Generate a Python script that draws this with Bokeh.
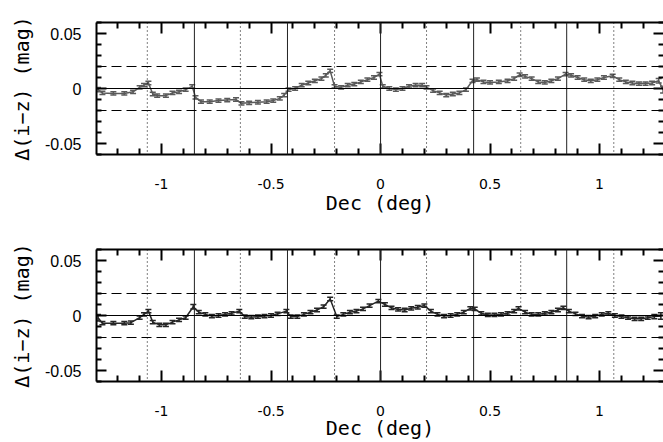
from bokeh.plotting import figure
from bokeh.models import (Range1d, FixedTicker, LinearAxis, Span, Whisker,
                          TeeHead, ColumnDataSource)
from bokeh.layouts import column
from bokeh.embed import file_html
from bokeh.resources import INLINE

# ---------------- data ----------------
x_major_ticks = [-1.0, -0.5, 0.0, 0.5, 1.0]
x_tick_labels = ["-1", "-0.5", "0", "0.5", "1"]
x_minor_ticks = [-1.2, -1.1, -0.9, -0.8, -0.7, -0.6, -0.4, -0.3, -0.2, -0.1,
                 0.1, 0.2, 0.3, 0.4, 0.6, 0.7, 0.8, 0.9, 1.1, 1.2]
y_major_ticks = [-0.05, 0.0, 0.05]
y_tick_labels = ["-0.05", "0", "0.05"]
y_minor_ticks = [-0.06, -0.04, -0.03, -0.02, -0.01, 0.01, 0.02, 0.03, 0.04, 0.06]

camcol_edges = [-0.85, -0.425, 0.0, 0.425, 0.85]          # solid vertical lines
camcol_centers = [-1.065, -0.64, -0.21, 0.21, 0.64, 1.065]  # dotted vertical lines
zero_level = 0.0
tolerance = 0.02                                           # dashed lines at +/-

dec_top = [-1.29, -1.27, -1.22, -1.17, -1.13, -1.10, -1.08, -1.06, -1.04, -1.02,
           -0.98, -0.95, -0.92, -0.89, -0.86, -0.845, -0.82, -0.78, -0.74, -0.70,
           -0.66, -0.635, -0.60, -0.56, -0.52, -0.49, -0.46, -0.44, -0.42, -0.39,
           -0.36, -0.33, -0.30, -0.27, -0.25, -0.23, -0.21, -0.18, -0.15, -0.12,
           -0.09, -0.06, -0.03, -0.005, 0.01, 0.04, 0.07, 0.10, 0.13, 0.16,
           0.19, 0.21, 0.24, 0.27, 0.30, 0.33, 0.36, 0.39, 0.42, 0.44,
           0.47, 0.50, 0.54, 0.58, 0.61, 0.635, 0.66, 0.69, 0.72, 0.75,
           0.78, 0.81, 0.845, 0.87, 0.90, 0.93, 0.96, 0.99, 1.02, 1.06,
           1.09, 1.12, 1.15, 1.18, 1.21, 1.24, 1.27, 1.29]
diz_top = [-0.001, -0.004, -0.0045, -0.0045, -0.003, 0.001, 0.003, 0.005, -0.005, -0.0065,
           -0.0065, -0.004, -0.003, -0.001, 0.002, -0.008, -0.012, -0.012, -0.011, -0.0105,
           -0.010, -0.0135, -0.013, -0.0125, -0.012, -0.011, -0.009, -0.006, -0.001, 0.000,
           0.003, 0.005, 0.007, 0.009, 0.012, 0.016, 0.002, 0.001, 0.003, 0.004,
           0.006, 0.008, 0.010, 0.013, 0.002, 0.000, -0.001, 0.000, 0.002, 0.003,
           0.003, 0.001, -0.002, -0.004, -0.006, -0.005, -0.004, -0.001, 0.007, 0.008,
           0.006, 0.0055, 0.006, 0.007, 0.009, 0.0125, 0.011, 0.009, 0.006, 0.0055,
           0.007, 0.009, 0.013, 0.012, 0.010, 0.008, 0.007, 0.008, 0.010, 0.0115,
           0.008, 0.006, 0.005, 0.0045, 0.0045, 0.005, 0.007, -0.001]
err_top = [0.002, 0.0015, 0.0015, 0.0015, 0.0015, 0.0015, 0.0015, 0.0015, 0.0015, 0.0015,
           0.0015, 0.0015, 0.0015, 0.0015, 0.0015, 0.0015, 0.0015, 0.0015, 0.0015, 0.0015,
           0.0015, 0.0015, 0.0015, 0.0015, 0.0015, 0.0015, 0.0015, 0.0015, 0.0015, 0.0015,
           0.0015, 0.0015, 0.0015, 0.0015, 0.0015, 0.0015, 0.0015, 0.0015, 0.0015, 0.0015,
           0.0015, 0.0015, 0.0015, 0.0015, 0.0015, 0.0015, 0.0015, 0.0015, 0.0015, 0.0015,
           0.0015, 0.0015, 0.0015, 0.0015, 0.0015, 0.0015, 0.0015, 0.0015, 0.0015, 0.0015,
           0.0015, 0.0015, 0.0015, 0.0015, 0.0015, 0.0015, 0.0015, 0.0015, 0.0015, 0.0015,
           0.0015, 0.0015, 0.0015, 0.0015, 0.0015, 0.0015, 0.0015, 0.0015, 0.0015, 0.0015,
           0.0015, 0.0015, 0.0015, 0.0015, 0.0015, 0.0015, 0.002, 0.003]

dec_bot = [-1.29, -1.27, -1.22, -1.17, -1.14, -1.10, -1.08, -1.06, -1.04, -1.01,
           -0.98, -0.95, -0.92, -0.89, -0.855, -0.83, -0.80, -0.77, -0.74, -0.71,
           -0.68, -0.645, -0.62, -0.59, -0.56, -0.53, -0.50, -0.47, -0.43, -0.41,
           -0.38, -0.35, -0.32, -0.29, -0.26, -0.23, -0.20, -0.17, -0.14, -0.11,
           -0.08, -0.05, -0.01, 0.02, 0.05, 0.08, 0.11, 0.14, 0.17, 0.20,
           0.23, 0.26, 0.29, 0.32, 0.35, 0.38, 0.41, 0.43, 0.46, 0.49,
           0.52, 0.55, 0.58, 0.61, 0.63, 0.66, 0.69, 0.72, 0.75, 0.78,
           0.81, 0.835, 0.86, 0.89, 0.92, 0.95, 0.98, 1.01, 1.04, 1.07,
           1.10, 1.13, 1.16, 1.19, 1.22, 1.25, 1.28]
diz_bot = [-0.002, -0.007, -0.007, -0.007, -0.0065, -0.002, 0.001, 0.004, -0.006, -0.0085,
           -0.0085, -0.006, -0.004, -0.002, 0.008, 0.003, 0.001, -0.0005, 0.000, 0.001,
           0.002, 0.004, -0.001, -0.0015, -0.001, -0.0005, 0.000, 0.0015, 0.004, -0.001,
           -0.001, 0.001, 0.003, 0.005, 0.008, 0.015, -0.001, 0.001, 0.003, 0.004,
           0.006, 0.009, 0.013, 0.010, 0.007, 0.0055, 0.005, 0.0065, 0.0075, 0.009,
           0.004, 0.001, -0.0005, 0.000, 0.001, 0.003, 0.0065, 0.006, 0.002, 0.0005,
           0.0005, 0.001, 0.002, 0.004, 0.0065, 0.003, 0.001, 0.001, 0.002, 0.003,
           0.005, 0.007, 0.004, 0.0015, -0.0005, -0.0015, -0.0005, 0.001, 0.002, 0.000,
           -0.001, -0.002, -0.003, -0.003, -0.002, -0.001, -0.0005]
err_bot = [0.003, 0.0015, 0.0015, 0.0015, 0.0015, 0.0015, 0.0015, 0.0015, 0.0015, 0.0015,
           0.0015, 0.0015, 0.0015, 0.0015, 0.002, 0.0015, 0.0015, 0.0015, 0.0015, 0.0015,
           0.0015, 0.0015, 0.0015, 0.0015, 0.0015, 0.0015, 0.0015, 0.0015, 0.0015, 0.0015,
           0.0015, 0.0015, 0.0015, 0.0015, 0.0015, 0.0015, 0.0015, 0.0015, 0.0015, 0.0015,
           0.0015, 0.0015, 0.0015, 0.0015, 0.0015, 0.0015, 0.0015, 0.0015, 0.0015, 0.0015,
           0.0015, 0.0015, 0.0015, 0.0015, 0.0015, 0.0015, 0.0015, 0.0015, 0.0015, 0.0015,
           0.0015, 0.0015, 0.0015, 0.0015, 0.0015, 0.0015, 0.0015, 0.0015, 0.0015, 0.0015,
           0.0015, 0.0015, 0.0015, 0.0015, 0.0015, 0.0015, 0.0015, 0.0015, 0.0015, 0.0015,
           0.0015, 0.0015, 0.0015, 0.0015, 0.0015, 0.002, 0.003]

X_LABEL = "Dec (deg)"
Y_LABEL = "\u0394(i\u2212z) (mag)"

TITLE_FONT = "DejaVu Sans Mono"


def style_ticks(ax, major_len, minor_len):
    ax.axis_line_width = 2
    ax.axis_line_color = "black"
    ax.major_tick_line_color = "black"
    ax.minor_tick_line_color = "black"
    ax.major_tick_in = major_len
    ax.major_tick_out = 0
    ax.minor_tick_in = minor_len
    ax.minor_tick_out = 0
    ax.major_tick_line_width = 2
    ax.minor_tick_line_width = 2


def style_x_axis(ax, show_labels, title_standoff=-3):
    ax.ticker = FixedTicker(ticks=x_major_ticks, minor_ticks=x_minor_ticks)
    style_ticks(ax, 11, 6)
    if show_labels:
        ax.major_label_overrides = {float(t): s for t, s in zip(x_major_ticks, x_tick_labels)}
        ax.major_label_standoff = 24
        ax.major_label_text_font = "DejaVu Sans"
        ax.major_label_text_font_size = "14px"
        ax.major_label_text_color = "black"
        ax.axis_label = X_LABEL
        ax.axis_label_text_font = TITLE_FONT
        ax.axis_label_text_font_style = "normal"
        ax.axis_label_text_font_size = "20px"
        ax.axis_label_text_color = "black"
        ax.axis_label_standoff = title_standoff
    else:
        ax.major_label_overrides = {float(t): "" for t in x_major_ticks}
        ax.major_label_standoff = 0


def make_panel(dec, diz, err, color, height, top, bottom, title_standoff):
    p = figure(width=663, height=height,
               x_range=Range1d(-1.297, 1.292), y_range=Range1d(-0.06, 0.06),
               output_backend="svg", toolbar_location=None,
               min_border_left=96, min_border_right=0,
               min_border_top=top, min_border_bottom=bottom)
    p.outline_line_color = None
    p.xgrid.visible = False
    p.ygrid.visible = False
    p.background_fill_color = "white"
    p.border_fill_color = "white"

    style_x_axis(p.xaxis[0], True, title_standoff)
    above = LinearAxis()
    style_x_axis(above, False)
    p.add_layout(above, "above")

    ya = p.yaxis[0]
    ya.ticker = FixedTicker(ticks=y_major_ticks, minor_ticks=y_minor_ticks)
    ya.major_label_overrides = {float(t): s for t, s in zip(y_major_ticks, y_tick_labels)}
    style_ticks(ya, 10, 5)
    ya.major_label_standoff = 15
    ya.major_label_text_font = "Liberation Sans"
    ya.major_label_text_font_size = "16px"
    ya.major_label_text_color = "black"
    ya.axis_label = Y_LABEL
    ya.axis_label_text_font = TITLE_FONT
    ya.axis_label_text_font_style = "normal"
    ya.axis_label_text_font_size = "20px"
    ya.axis_label_text_color = "black"
    ya.axis_label_standoff = 8

    # right-hand ticks (the frame edge itself falls just past the page edge)
    ra = LinearAxis(ticker=FixedTicker(ticks=y_major_ticks, minor_ticks=y_minor_ticks))
    style_ticks(ra, 10, 5)
    ra.axis_line_color = None
    ra.major_label_overrides = {float(t): "" for t in y_major_ticks}
    ra.major_label_standoff = 0
    p.add_layout(ra, "right")

    # reference lines
    for xe in camcol_edges:
        p.add_layout(Span(location=xe, dimension="height", line_color="#222222",
                          line_width=1))
    for xc in camcol_centers:
        p.add_layout(Span(location=xc, dimension="height", line_color="black",
                          line_width=1, line_dash="1 3"))
    p.add_layout(Span(location=zero_level, dimension="width", line_color="black",
                      line_width=1))
    for yl in (tolerance, -tolerance):
        p.add_layout(Span(location=yl, dimension="width", line_color="black",
                          line_width=1, line_dash="10 5"))

    src = ColumnDataSource(dict(
        x=dec, y=diz,
        upper=[v + e for v, e in zip(diz, err)],
        lower=[v - e for v, e in zip(diz, err)]))
    p.line("x", "y", source=src, line_color=color, line_width=1.5)
    p.add_layout(Whisker(base="x", upper="upper", lower="lower", source=src,
                         dimension="height", line_color=color, line_width=1.5,
                         upper_head=TeeHead(size=6, line_color=color, line_width=1.5),
                         lower_head=TeeHead(size=6, line_color=color, line_width=1.5)))
    return p


p1 = make_panel(dec_top, diz_top, err_top, "#5a5a5a", 228, 22, 74, -1)
p2 = make_panel(dec_bot, diz_bot, err_bot, "#262626", 214, 21, 59, -3)

layout = column(p1, p2, spacing=0)
open("out.html", "w").write(file_html(layout, INLINE))
